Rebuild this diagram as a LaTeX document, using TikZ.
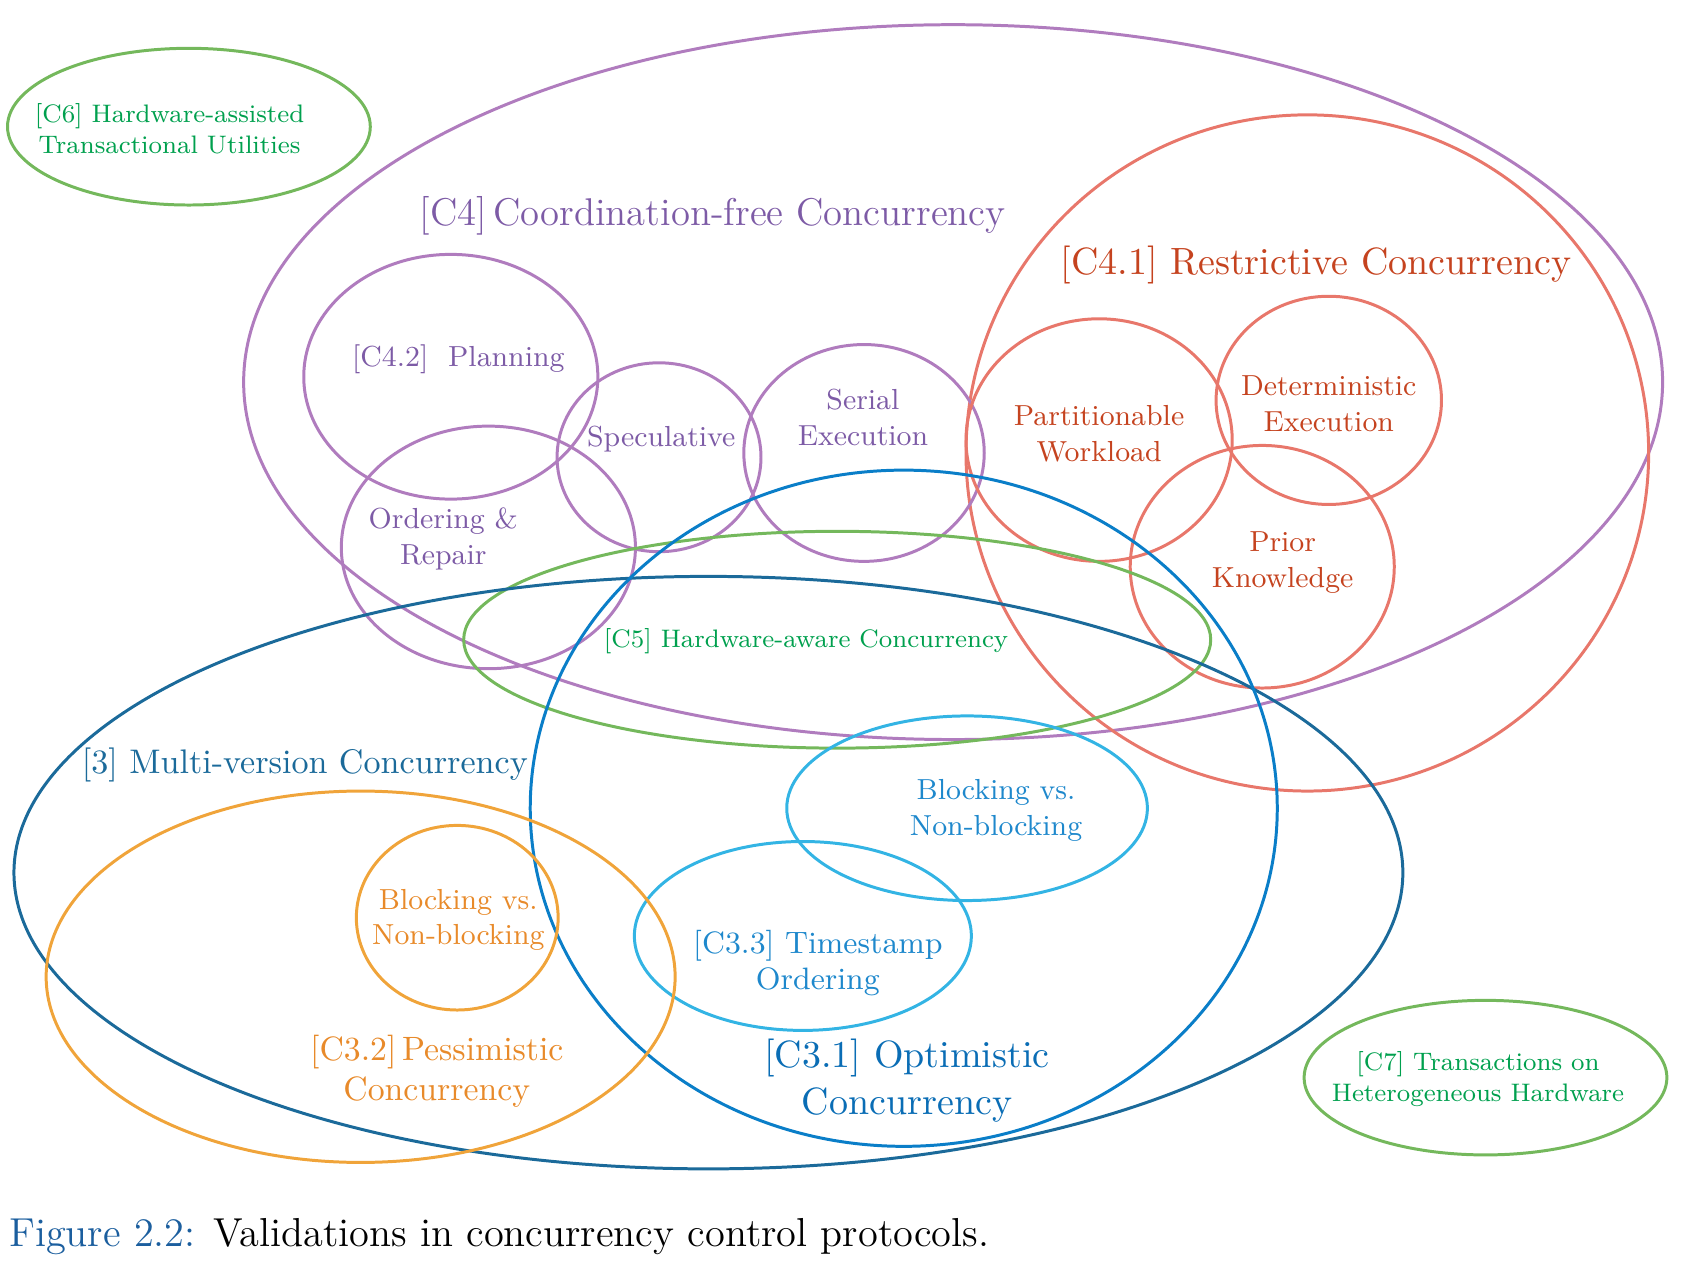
\documentclass[tikz,border=0pt]{standalone}
\usepackage{tikz}

\definecolor{purpleLine}{RGB}{176,124,190}
\definecolor{purpleText}{RGB}{125,91,166}
\definecolor{redLine}{RGB}{232,119,107}
\definecolor{redText}{RGB}{197,67,31}
\definecolor{greenLine}{RGB}{116,184,92}
\definecolor{greenText}{RGB}{0,160,78}
\definecolor{mvBlue}{RGB}{27,106,154}
\definecolor{optLine}{RGB}{10,126,200}
\definecolor{optText}{RGB}{10,109,181}
\definecolor{lightLine}{RGB}{51,180,228}
\definecolor{lightText}{RGB}{30,136,204}
\definecolor{orangeLine}{RGB}{240,164,58}
\definecolor{orangeText}{RGB}{232,138,42}
\definecolor{captionBlue}{RGB}{27,94,158}

\newcommand\bigSize{\fontsize{10.8}{13.4}\selectfont}
\newcommand\midSize{\fontsize{8.5}{10.4}\selectfont}
\newcommand\smallSize{\fontsize{7.5}{9.2}\selectfont}

\begin{document}
\begin{tikzpicture}[x=0.01073cm,y=-0.01073cm,
  ring/.style={line width=0.85pt},
  lbl/.style={align=center,inner sep=0pt},
  small/.style={lbl,font=\smallSize,scale=0.96},
  mid/.style={lbl,font=\midSize,scale=0.97}]

\useasboundingbox (0,0) rectangle (1568,1180);

% draw the rings
\foreach \cx/\cy/\rx/\ry/\col in {
  176/118/169/73/greenLine,
  888/356/661/333/purpleLine,
  1218/422/318/315/redLine,
  420/351/137/114/purpleLine,
  614/426/95/88/purpleLine,
  805/422/112/101/purpleLine,
  455/510/137/113/purpleLine,
  1024/410/124/113/redLine,
  1238/373/105/97/redLine,
  1176/528/123/113/redLine,
  780/596/348/101/greenLine,
  660/813/647/276/mvBlue,
  842/753/348/315/optLine,
  901/753/168/86/lightLine,
  748/872/157/88/lightLine,
  336/910/293/173/orangeLine,
  426/855/94/86/orangeLine,
  1384/1004/169/72/greenLine}
\draw[ring,color=\col] (\cx,\cy) ellipse [x radius=\rx, y radius=\ry];

% labels
\node[small,text=greenText] (c6) at (158,120) {[C6] Hardware-assisted\\Transactional Utilities};
\node[lbl,font=\fontsize{11}{13.4}\selectfont,text=purpleText] (c4) at (664,201) {[C4]\,Coordination-free Concurrency};
\node[lbl,font=\bigSize,text=redText] (c41) at (1226,247) {[C4.1] Restrictive Concurrency};
\node[mid,text=purpleText] (c42) at (427,335) {[C4.2]~~Planning};
\node[mid,text=purpleText] (spec) at (616,409) {Speculative};
\node[mid,text=purpleText] (serial) at (804,389) {Serial\\Execution};
\node[mid,text=purpleText] (order) at (413,502) {Ordering \&\\Repair};
\node[mid,text=redText] (part) at (1024,404) {Partitionable\\Workload};
\node[mid,text=redText] (determ) at (1238,376) {Deterministic\\Execution};
\node[mid,text=redText] (prior) at (1195,524) {Prior\\Knowledge};
\node[small,text=greenText] (c5) at (751,597) {[C5] Hardware-aware Concurrency};
\node[lbl,font=\fontsize{9.7}{12}\selectfont,text=mvBlue] (mv) at (284,713) {[3] Multi-version Concurrency};
\node[mid,text=lightText] (optblock) at (928,755) {Blocking vs.\\Non-blocking};
\node[mid,text=orangeText] (pesblock) at (427,857) {Blocking vs.\\Non-blocking};
\node[lbl,font=\fontsize{8.8}{10.2}\selectfont,text=lightText] (c33) at (762,897) {[C3.3] Timestamp\\Ordering};
\node[lbl,font=\fontsize{9.6}{11.3}\selectfont,text=orangeText] (c32) at (407,998) {[C3.2]\,Pessimistic\\Concurrency};
\node[lbl,font=\bigSize,text=optText] (c31) at (845,1007) {[C3.1] Optimistic\\Concurrency};
\node[small,text=greenText] (c7) at (1377,1005) {[C7] Transactions on\\Heterogeneous Hardware};

% caption
\node[lbl,anchor=west,font=\fontsize{11.5}{13}\selectfont] (caption) at (8,1152) {\textcolor{captionBlue}{Figure 2.2:} Validations in concurrency control protocols.};

\end{tikzpicture}
\end{document}
